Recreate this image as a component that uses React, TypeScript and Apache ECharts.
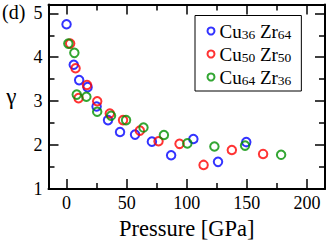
import React, { useEffect, useRef } from 'react';
import * as echarts from 'echarts';

const seriesNames = ['Cu36Zr64', 'Cu50Zr50', 'Cu64Zr36'];
const seriesColors = ['#0000ff', '#ff0000', '#009000'];

const pressureCu36Zr64 = [0, 6, 10.5, 17.5, 25, 34.5, 44.5, 57, 71, 87, 105.5, 126, 149.5];
const gammaCu36Zr64 = [4.75, 3.83, 3.48, 3.32, 2.88, 2.57, 2.30, 2.24, 2.08, 1.77, 2.14, 1.62, 2.07];

const pressureCu50Zr50 = [3, 7.5, 10, 17, 25.5, 36, 47, 61, 76.5, 94, 114, 137.5, 163.5];
const gammaCu50Zr50 = [4.31, 3.75, 3.07, 3.37, 3.0, 2.72, 2.57, 2.33, 2.09, 2.03, 1.55, 1.89, 1.8];

const pressureCu64Zr36 = [1.5, 6.5, 8.5, 16.5, 25.5, 37, 49.5, 64, 81, 100.5, 123, 148.5, 178.5];
const gammaCu64Zr36 = [4.31, 4.1, 3.15, 3.1, 2.76, 2.67, 2.57, 2.4, 2.23, 2.04, 1.97, 1.99, 1.78];

const pressures = [pressureCu36Zr64, pressureCu50Zr50, pressureCu64Zr36];
const gammas = [gammaCu36Zr64, gammaCu50Zr50, gammaCu64Zr36];

const xMajorTicks = [0, 50, 100, 150, 200];
const xMinorTicks = [25, 75, 125, 175];
const yMajorTicks = [1, 2, 3, 4, 5];
const yMinorTicks = [1.5, 2.5, 3.5, 4.5];

const X_MIN = -15;
const X_MAX = 215;
const Y_MIN = 1;
const Y_MAX = 5.2;

const FONT = 'Liberation Serif';

function makeAxis(
  kind: 'x' | 'y',
  position: string,
  ticks: number[],
  len: number,
  showLine: boolean,
  showLabels: boolean
) {
  return {
    type: 'value',
    position,
    min: kind === 'x' ? X_MIN : Y_MIN,
    max: kind === 'x' ? X_MAX : Y_MAX,
    axisLine: { show: showLine, onZero: false, lineStyle: { color: '#000', width: 2 } },
    axisTick: {
      show: true,
      inside: true,
      length: len,
      customValues: ticks,
      lineStyle: { color: '#000', width: 1.5 },
    },
    axisLabel: showLabels
      ? {
          show: true,
          customValues: ticks,
          color: '#000',
          fontFamily: FONT,
          fontSize: 18,
          margin: kind === 'x' ? 5 : 6,
        }
      : { show: false },
    splitLine: { show: false },
  };
}

export default function App() {
  const ref = useRef<HTMLDivElement>(null);

  useEffect(() => {
    if (!ref.current) return;
    const chart = echarts.init(ref.current, null, { renderer: 'svg' });

    const xAxes: any[] = [
      {
        ...makeAxis('x', 'bottom', xMajorTicks, 10, true, true),
        name: 'Pressure [GPa]',
        nameLocation: 'middle',
        nameGap: 23,
        nameTextStyle: { color: '#000', fontFamily: FONT, fontSize: 22.5 },
      },
      makeAxis('x', 'bottom', xMinorTicks, 6, false, false),
      makeAxis('x', 'top', xMajorTicks, 10, true, false),
      makeAxis('x', 'top', xMinorTicks, 6, false, false),
    ];
    const yAxes: any[] = [
      {
        ...makeAxis('y', 'left', yMajorTicks, 10, true, true),
        name: 'γ',
        nameLocation: 'middle',
        nameRotate: 0,
        nameGap: 32,
        nameTextStyle: { color: '#000', fontFamily: FONT, fontSize: 23 },
      },
      makeAxis('y', 'left', yMinorTicks, 6, false, false),
      makeAxis('y', 'right', yMajorTicks, 10, true, false),
      makeAxis('y', 'right', yMinorTicks, 6, false, false),
    ];

    const fmt = (name: string) => {
      const m = /^Cu(\d+)Zr(\d+)$/.exec(name);
      if (!m) return name;
      return `{b|Cu}{s|${m[1]}}{b| Zr}{s|${m[2]}}`;
    };

    chart.setOption({
      animation: false,
      textStyle: { fontFamily: FONT },
      title: {
        text: '(d)',
        left: 2,
        top: 2,
        padding: 0,
        textStyle: { color: '#000', fontFamily: FONT, fontSize: 20, fontWeight: 'normal' },
      },
      grid: { left: 48.5, right: 2, top: 4.5, bottom: 46, containLabel: false },
      xAxis: xAxes,
      yAxis: yAxes,
      legend: {
        orient: 'vertical',
        left: 195,
        top: 15.5,
        padding: [6, 10, 4, 11.5],
        itemGap: 3.5,
        itemWidth: 7,
        itemHeight: 7,
        itemTextGap: 15,
        borderColor: '#000',
        borderWidth: 1,
        borderRadius: 0,
        backgroundColor: '#fff',
        formatter: fmt,
        textStyle: {
          color: '#000',
          fontFamily: FONT,
          rich: {
            b: { fontFamily: FONT, fontSize: 19, lineHeight: 20, color: '#000' },
            s: { fontFamily: FONT, fontSize: 13.5, lineHeight: 8, verticalAlign: 'bottom', color: '#000' },
          },
        },
        data: seriesNames.map((n, i) => ({
          name: n,
          icon: 'circle',
          itemStyle: { color: 'transparent', borderColor: seriesColors[i], borderWidth: 2 },
        })),
      },
      series: seriesNames.map((n, i) => ({
        name: n,
        type: 'scatter',
        xAxisIndex: 0,
        yAxisIndex: 0,
        symbol: 'circle',
        symbolSize: 8.5,
        itemStyle: { color: 'transparent', borderColor: seriesColors[i], borderWidth: 2 },
        data: pressures[i].map((p, j) => [p, gammas[i][j]]),
      })),
    });

    return () => chart.dispose();
  }, []);

  return (
    <div
      ref={ref}
      style={{ position: 'absolute', left: 0, top: 0, width: 327, height: 245, background: '#fff' }}
    />
  );
}
